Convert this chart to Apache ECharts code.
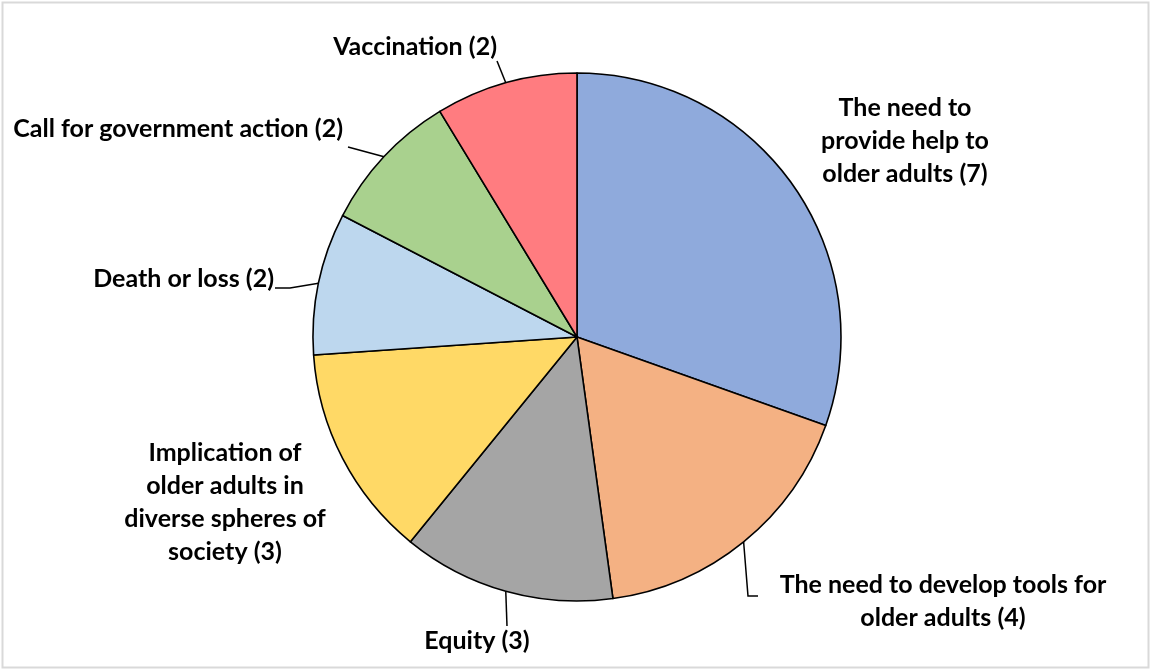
<!DOCTYPE html>
<html>
<head>
<meta charset="utf-8">
<script src="https://cdn.jsdelivr.net/npm/echarts@6/dist/echarts.min.js"></script>
<style>
html,body{margin:0;padding:0;background:#fff;}
#chart{width:1152px;height:671px;}
</style>
</head>
<body>
<div id="chart"></div>
<script>
// ---- data ----
const categories = [
  'The need to\nprovide help to\nolder adults',
  'The need to develop tools for\nolder adults',
  'Equity',
  'Implication of\nolder adults in\ndiverse spheres of\nsociety',
  'Death or loss',
  'Call for government action',
  'Vaccination'
];
const counts = [7, 4, 3, 3, 2, 2, 2];

// ---- style ----
const colors = ['#8FAADC', '#F4B183', '#A5A5A5', '#FFD966', '#BDD7EE', '#A9D18E', '#FF7C80'];
const showLine = [false, true, true, false, true, true, true];
// label anchor positions (layout)
const labelPos = [
  {x: 905, y: 141, align: 'center'},
  {x: 943, y: 601, align: 'center'},
  {x: 477, y: 641, align: 'center'},
  {x: 225, y: 502, align: 'center'},
  {x: 274, y: 279, align: 'right'},
  {x: 343, y: 129, align: 'right'},
  {x: 497, y: 47,  align: 'right'}
];
// leader line bends (layout)
const lineBends = [
  null,
  [[748, 596], [758, 596]],
  [[507, 626], [507, 626]],
  null,
  [[290, 288], [275, 288]],
  [[348, 147], [348, 147]],
  [[497, 61], [497, 61]]
];

const chart = echarts.init(document.getElementById('chart'), null, {renderer: 'canvas'});
const data = categories.map((c, i) => ({
  name: c,
  value: counts[i],
  itemStyle: {color: colors[i]},
  labelLine: {show: showLine[i]}
}));

chart.setOption({
  backgroundColor: '#ffffff',
  animation: false,
  graphic: [{
    type: 'rect',
    shape: {x: 2.5, y: 2.5, width: 1146, height: 665},
    style: {fill: 'none', stroke: '#d9d9d9', lineWidth: 2},
    silent: true
  }],
  series: [{
    type: 'pie',
    center: [577, 337],
    radius: 264,
    startAngle: 90,
    clockwise: true,
    avoidLabelOverlap: false,
    data: data,
    itemStyle: {borderColor: '#000', borderWidth: 1.6},
    label: {
      show: true,
      position: 'outside',
      formatter: p => p.name + ' (' + p.value + ')',
      fontFamily: 'Lato',
      fontWeight: 'bold',
      fontSize: 25,
      lineHeight: 33,
      color: '#000'
    },
    labelLine: {
      show: true,
      smooth: false,
      lineStyle: {color: '#000', width: 1.5}
    },
    labelLayout: function (params) {
      const i = params.dataIndex;
      const p = labelPos[i];
      const res = {x: p.x, y: p.y, align: p.align, verticalAlign: 'middle'};
      const pts = params.labelLinePoints;
      if (lineBends[i] && pts && pts.length) {
        res.labelLinePoints = [pts[0], lineBends[i][0], lineBends[i][1]];
      }
      return res;
    }
  }]
});
</script>
</body>
</html>
